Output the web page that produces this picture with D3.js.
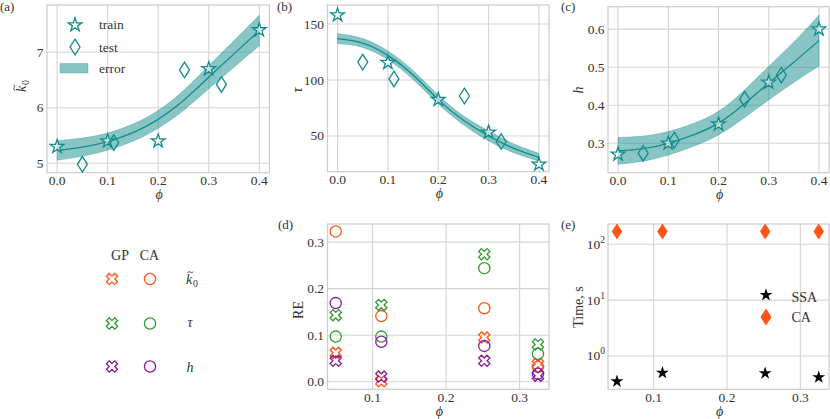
<!DOCTYPE html>
<html><head><meta charset="utf-8">
<script src="https://cdn.jsdelivr.net/npm/d3@7"></script>
<style>
body{margin:0;background:#fff}
svg{display:block}
</style>
</head><body>
<svg id="c" width="830" height="419" font-family="'Liberation Serif','DejaVu Serif',serif"></svg>
<script>
// ---------- data ----------
const phiGrid = [0, 0.05, 0.1, 0.15, 0.2, 0.25, 0.3, 0.35, 0.4];
const k0Mean  = [5.23, 5.29, 5.39, 5.55, 5.79, 6.13, 6.55, 6.97, 7.39];
const k0Lower = [5.055, 5.125, 5.235, 5.395, 5.63, 5.95, 6.34, 6.73, 7.115];
const k0Upper = [5.405, 5.455, 5.545, 5.705, 5.95, 6.31, 6.76, 7.21, 7.665];
const tauMean  = [137, 133, 122, 104.5, 82.5, 64, 50, 39, 31];
const tauLower = [132.5, 129, 118, 100.5, 78.5, 60, 45.5, 35, 27.5];
const tauUpper = [141.5, 137, 126, 108.5, 86.5, 68, 54.5, 43, 34.5];
const hMean  = [0.280, 0.286, 0.300, 0.322, 0.353, 0.402, 0.458, 0.513, 0.570];
const hLower = [0.245, 0.253, 0.269, 0.292, 0.322, 0.366, 0.414, 0.460, 0.503];
const hUpper = [0.315, 0.319, 0.331, 0.352, 0.384, 0.438, 0.502, 0.566, 0.637];

const trainPhi = [0, 0.1, 0.2, 0.3, 0.4];
const k0Train  = [5.30, 5.40, 5.40, 6.70, 7.40];
const tauTrain = [158, 115.5, 82.5, 53.3, 24.7];
const hTrain   = [0.271, 0.300, 0.350, 0.460, 0.600];

const testPhi = [0.05, 0.112, 0.252, 0.325];
const k0Test  = [4.98, 5.37, 6.68, 6.42];
const tauTest = [116, 101, 85.7, 45];
const hTest   = [0.274, 0.308, 0.416, 0.479];

const rePhi = [0.05, 0.112, 0.252, 0.325];
const gpK0  = [0.062, 0.001, 0.095, 0.038];
const caK0  = [0.323, 0.141, 0.158, 0.032];
const gpTau = [0.143, 0.165, 0.274, 0.080];
const caTau = [0.097, 0.097, 0.244, 0.060];
const gpH   = [0.045, 0.011, 0.045, 0.013];
const caH   = [0.169, 0.086, 0.077, 0.017];

const timeSSA = [0.35, 0.50, 0.49, 0.415];
const timeCA  = [170, 170, 170, 170];

const phiTicks = [0, 0.1, 0.2, 0.3, 0.4];
const phiTicksRE = [0.1, 0.2, 0.3];
const k0Ticks = [5, 6, 7];
const tauTicks = [50, 100, 150];
const hTicks = [0.3, 0.4, 0.5, 0.6];
const reTicks = [0.0, 0.1, 0.2, 0.3];
const timeTicks = [1, 10, 100];

// ---------- style ----------
const TEAL = "#138c8c", ORANGE = "#ff5416", GREEN = "#2f9a2f", PURPLE = "#8a1a9b";
const GRID = "#d4d4d4", FRAME = "#cbcbcb", INK = "#333";
const svg = d3.select("#c");

function starPath(R) {
  const r = R * 0.381966, p = [];
  for (let i = 0; i < 10; i++) {
    const a = -Math.PI / 2 + i * Math.PI / 5, rr = i % 2 ? r : R;
    p.push([rr * Math.cos(a), rr * Math.sin(a)]);
  }
  return "M" + p.map(d => d[0].toFixed(2) + "," + d[1].toFixed(2)).join("L") + "Z";
}
function diamondPath(w, h) { return `M0,${-h}L${w},0L0,${h}L${-w},0Z`; }
function xPath(s) {
  const v = [[0.25,0],[0.5,0.25],[0.25,0.5],[0,0.25],[-0.25,0.5],[-0.5,0.25],[-0.25,0],[-0.5,-0.25],[-0.25,-0.5],[0,-0.25],[0.25,-0.5],[0.5,-0.25]];
  return "M" + v.map(d => (d[0]*s).toFixed(2) + "," + (d[1]*s).toFixed(2)).join("L") + "Z";
}
function txt(parent, x, y, s, size, opts = {}) {
  return parent.append("text").attr("x", x).attr("y", y).attr("font-size", size)
    .attr("fill", INK).attr("text-anchor", opts.anchor || "start")
    .attr("font-style", opts.italic ? "italic" : null).text(s);
}

function panel(o) {
  const g = svg.append("g");
  const x = d3.scaleLinear().domain(o.xd).range(o.xr);
  const y = (o.log ? d3.scaleLog() : d3.scaleLinear()).domain(o.yd).range(o.yr);
  g.selectAll(".gx").data(o.xt).join("line")
    .attr("x1", d => x(d)).attr("x2", d => x(d)).attr("y1", o.yr[0]).attr("y2", o.yr[1])
    .attr("stroke", GRID).attr("stroke-width", 1.1);
  g.selectAll(".gy").data(o.yt).join("line")
    .attr("y1", d => y(d)).attr("y2", d => y(d)).attr("x1", o.xr[0]).attr("x2", o.xr[1])
    .attr("stroke", GRID).attr("stroke-width", 1.1);
  g.append("rect").attr("x", o.xr[0]).attr("y", o.yr[1])
    .attr("width", o.xr[1] - o.xr[0]).attr("height", o.yr[0] - o.yr[1])
    .attr("fill", "none").attr("stroke", FRAME).attr("stroke-width", 1.2);
  o.xt.forEach(d => txt(g, x(d), o.yr[0] + 12.5, d3.format(".1f")(d), 13.5, {anchor: "middle"}));
  if (o.log) {
    o.yt.forEach(d => {
      const t = txt(g, o.xr[0] - 3, y(d) + 4.5, "", 13.5, {anchor: "end"});
      t.append("tspan").text("10");
      t.append("tspan").attr("dy", -6).attr("font-size", 9.5).text(Math.round(Math.log10(d)));
    });
  } else {
    o.yt.forEach(d => txt(g, o.xr[0] - 3.5, y(d) + 4.5, o.yf(d), 13.5, {anchor: "end"}));
  }
  txt(g, (o.xr[0] + o.xr[1]) / 2 + 1, o.yr[0] + 26.5, "ϕ", 14, {anchor: "middle", italic: true});
  txt(g, o.lx, o.ly, o.letter, 13);
  return {g, x, y};
}

function ylabel(xb, yc, s, italic) {
  svg.append("text").attr("transform", `translate(${xb},${yc}) rotate(-90)`)
    .attr("text-anchor", "middle").attr("font-size", 14).attr("fill", INK)
    .attr("font-style", italic ? "italic" : null).text(s);
}
function k0Label(parent, tr, size) {
  const g = parent.append("g").attr("transform", tr);
  txt(g, 0, 0, "k", size, {italic: true});
  g.append("path").attr("d", "M1.6,-11.2 C2.4,-12.6 3.4,-12.6 4.4,-11.8 S6.4,-11 7.2,-12.4")
    .attr("fill", "none").attr("stroke", INK).attr("stroke-width", 0.9);
  txt(g, size * 0.5, size * 0.22, "0", size * 0.7);
  return g;
}

function gpPanel(P, mean, lo, hi, trainV, testV) {
  const area = d3.area().x((d, i) => P.x(phiGrid[i])).y0((d, i) => P.y(lo[i])).y1((d, i) => P.y(hi[i]))
    .curve(d3.curveNatural);
  P.g.append("path").attr("d", area(phiGrid)).attr("fill", TEAL).attr("fill-opacity", 0.5)
    .attr("stroke", TEAL).attr("stroke-opacity", 0.3).attr("stroke-width", 1);
  const line = d3.line().x((d, i) => P.x(phiGrid[i])).y((d, i) => P.y(mean[i])).curve(d3.curveNatural);
  P.g.append("path").attr("d", line(phiGrid)).attr("fill", "none").attr("stroke", TEAL).attr("stroke-width", 1.3);
  P.g.selectAll(".st").data(trainPhi).join("path")
    .attr("transform", (d, i) => `translate(${P.x(d)},${P.y(trainV[i])})`)
    .attr("d", starPath(7.2)).attr("fill", "white").attr("fill-opacity", 0.55)
    .attr("stroke", TEAL).attr("stroke-width", 1.3);
  P.g.selectAll(".te").data(testPhi).join("path")
    .attr("transform", (d, i) => `translate(${P.x(d)},${P.y(testV[i])})`)
    .attr("d", diamondPath(5, 7.8)).attr("fill", "none")
    .attr("stroke", TEAL).attr("stroke-width", 1.3);
}

// ---------- panel (a) ----------
const A = panel({xd: [-0.02, 0.42], xr: [47, 269.4], yd: [4.83, 7.85], yr: [172.7, 5],
  xt: phiTicks, yt: k0Ticks, yf: d => String(d), letter: "(a)", lx: 0, ly: 11});
gpPanel(A, k0Mean, k0Lower, k0Upper, k0Train, k0Test);
k0Label(svg, "translate(26,92) rotate(-90)", 14);
A.g.append("path").attr("transform", "translate(75,25)").attr("d", starPath(7.2))
  .attr("fill", "none").attr("stroke", TEAL).attr("stroke-width", 1.3);
A.g.append("path").attr("transform", "translate(75,47)").attr("d", diamondPath(5, 7.8))
  .attr("fill", "none").attr("stroke", TEAL).attr("stroke-width", 1.3);
A.g.append("rect").attr("x", 60).attr("y", 63.5).attr("width", 28).attr("height", 9.5)
  .attr("fill", TEAL).attr("fill-opacity", 0.5).attr("stroke", TEAL).attr("stroke-opacity", 0.3);
[["train", 29], ["test", 51.5], ["error", 73]].forEach(([t, yy]) => txt(A.g, 99, yy, t, 13.5));

// ---------- panel (b) ----------
const B = panel({xd: [-0.02, 0.42], xr: [327.5, 549], yd: [18.1, 167], yr: [171.7, 5],
  xt: phiTicks, yt: tauTicks, yf: d => String(d), letter: "(b)", lx: 277, ly: 11});
gpPanel(B, tauMean, tauLower, tauUpper, tauTrain, tauTest);
ylabel(302, 90, "τ", true);

// ---------- panel (c) ----------
const C = panel({xd: [-0.02, 0.42], xr: [608, 829], yd: [0.2226, 0.659], yr: [172.7, 6.7],
  xt: phiTicks, yt: hTicks, yf: d => d3.format(".1f")(d), letter: "(c)", lx: 561, ly: 11});
gpPanel(C, hMean, hLower, hUpper, hTrain, hTest);
ylabel(583, 90, "h", true);

// ---------- panel (d) ----------
const D = panel({xd: [0.0388, 0.34], xr: [327.5, 549], yd: [-0.0163, 0.339], yr: [389.3, 224],
  xt: phiTicksRE, yt: reTicks, yf: d => d3.format(".1f")(d), letter: "(d)", lx: 278, ly: 229});
ylabel(303, 310, "RE", false);
const reSeries = [
  [gpK0, ORANGE, "x"], [caK0, ORANGE, "o"],
  [gpTau, GREEN, "x"], [caTau, GREEN, "o"],
  [gpH, PURPLE, "x"], [caH, PURPLE, "o"]
];
reSeries.forEach(([vals, col, m]) => {
  D.g.selectAll(null).data(rePhi).join("path")
    .attr("transform", (d, i) => `translate(${D.x(d)},${D.y(vals[i])})`)
    .attr("d", m === "x" ? xPath(11.2) : d3.symbol(d3.symbolCircle, Math.PI * 5.6 * 5.6)())
    .attr("fill", "none").attr("stroke", col).attr("stroke-width", 1.3);
});

// ---------- panel (e) ----------
const E = panel({xd: [0.0378, 0.339], xr: [608, 829], yd: [Math.pow(10, -0.597), Math.pow(10, 2.364)], yr: [389.3, 224],
  xt: phiTicksRE, yt: timeTicks, log: true, letter: "(e)", lx: 561, ly: 229});
ylabel(583, 307, "Time, s", false);
E.g.selectAll(".ca").data(rePhi).join("path")
  .attr("transform", (d, i) => `translate(${E.x(d)},${E.y(timeCA[i])})`)
  .attr("d", diamondPath(5.2, 8)).attr("fill", ORANGE);
E.g.selectAll(".ssa").data(rePhi).join("path")
  .attr("transform", (d, i) => `translate(${E.x(d)},${E.y(timeSSA[i])})`)
  .attr("d", starPath(6.8)).attr("fill", "#000");
E.g.append("path").attr("transform", "translate(766,295)").attr("d", starPath(6.8)).attr("fill", "#000");
E.g.append("path").attr("transform", "translate(766,317)").attr("d", diamondPath(5.6, 8.5)).attr("fill", ORANGE);
txt(E.g, 791.5, 301.5, "SSA", 14);
txt(E.g, 791.5, 321.5, "CA", 14);

// ---------- custom legend (bottom-left) ----------
const L = svg.append("g");
txt(L, 120, 259.5, "GP", 14, {anchor: "middle"});
txt(L, 149.5, 259.5, "CA", 14, {anchor: "middle"});
const legRows = [[ORANGE, 279], [GREEN, 323.5], [PURPLE, 366.5]];
legRows.forEach(([col, yy]) => {
  L.append("path").attr("transform", `translate(112,${yy})`).attr("d", xPath(11.2))
    .attr("fill", "none").attr("stroke", col).attr("stroke-width", 1.3);
  L.append("path").attr("transform", `translate(150,${yy})`).attr("d", d3.symbol(d3.symbolCircle, Math.PI * 5.6 * 5.6)())
    .attr("fill", "none").attr("stroke", col).attr("stroke-width", 1.3);
});
k0Label(L, "translate(186,284)", 14);
txt(L, 187.5, 327, "τ", 14, {italic: true});
txt(L, 186.5, 371.5, "h", 14, {italic: true});
</script>
</body></html>
